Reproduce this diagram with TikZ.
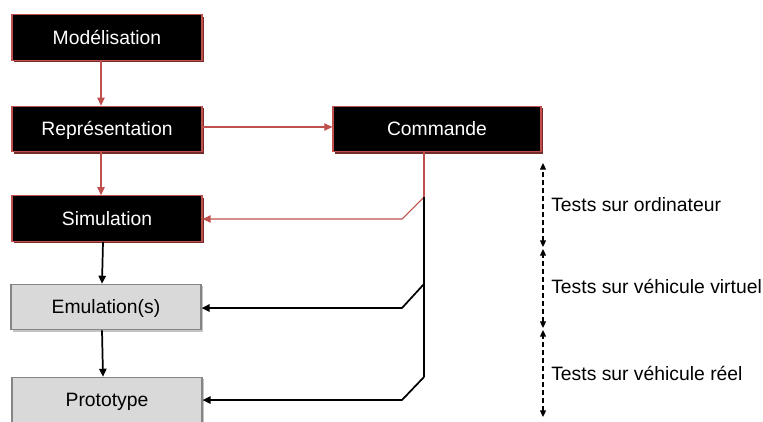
\documentclass[tikz,border=0pt]{standalone}
\usepackage{fontspec}
\setmainfont{Liberation Sans}
\usetikzlibrary{arrows.meta,shadows}
\definecolor{boxred}{HTML}{C0504D}
\definecolor{shadered}{HTML}{772B2A}
\definecolor{boxgray}{HTML}{D9D9D9}
\definecolor{edgegray}{HTML}{858585}
\definecolor{shadegray}{HTML}{C4C4C4}
\begin{document}
\begin{tikzpicture}[x=0.75pt,y=-0.75pt,
  font=\fontsize{14.5pt}{16pt}\selectfont,
  boxbase/.style={line width=0.9pt, minimum width=142.5pt, minimum height=34pt,
    inner sep=0pt, text height=10.4pt, text depth=0pt},
  darkbox/.style={boxbase, draw=boxred, fill=black, text=white,
    drop shadow={shadow xshift=1.6pt, shadow yshift=-1.6pt, fill=shadered, opacity=1}},
  lightbox/.style={boxbase, draw=edgegray, fill=boxgray, text=black,
    drop shadow={shadow xshift=1.6pt, shadow yshift=-1.6pt, fill=shadegray, opacity=1}},
  redline/.style={draw=boxred, line width=0.8pt},
  redflow/.style={redline, -{Triangle[length=6pt,width=5.5pt]}},
  blackline/.style={draw=black, line width=1.3pt},
  blackflow/.style={blackline, -{Triangle[length=6pt,width=5.5pt]}},
  phase/.style={draw=black, line width=0.8pt, dash pattern=on 3.5pt off 2.5pt,
    {Triangle[length=5pt,width=4.5pt]}-{Triangle[length=5pt,width=4.5pt]}},
  phaselabel/.style={anchor=west, inner sep=0pt}]
\useasboundingbox (0,0) rectangle (763,421);

% process boxes
\node[darkbox] (model) at (107,37.5) {Modélisation};
\node[darkbox] (repr)  at (107,129)  {Représentation};
\node[darkbox, minimum width=156pt] (cmd) at (437,129) {Commande};
\node[darkbox] (simu)  at (107,218.5) {Simulation};
\node[lightbox] (emu)  at (106,307)  {Emulation(s)};
\node[lightbox] (proto) at (107,400) {Prototype};

% taps on the control bus
\coordinate (tap1) at (424,197);
\coordinate (tap2) at (424,284);
\coordinate (tap3) at (424,377);
\coordinate (bend1) at (402,219);
\coordinate (bend2) at (402,308);
\coordinate (bend3) at (402,400);

% design chain
\draw[redflow] ([xshift=-4.5pt]model.south) -- ([xshift=-4.5pt]repr.north);
\draw[redflow] ([xshift=-4.5pt]repr.south) -- ([xshift=-4.5pt]simu.north);
\draw[redflow] ([yshift=1.5pt]repr.east) -- ([yshift=1.5pt]cmd.west);
\draw[blackflow] ([xshift=-3pt]simu.south) -- ([xshift=-3pt]emu.north);
\draw[blackflow] ([xshift=-3pt]emu.south) -- ([xshift=-3pt]proto.north);

% control feedback
\draw[redline] ([xshift=-9.75pt]cmd.south) -- (tap1);
\draw[redflow] (tap1) -- (bend1) -- (simu.east |- bend1);
\draw[blackline] (tap1) -- (tap3);
\draw[blackflow] (tap2) -- (bend2) -- (emu.east |- bend2);
\draw[blackflow] (tap3) -- (bend3) -- (proto.east);

% test phases
\coordinate (p0) at (543,163);
\coordinate (p1) at (543,247);
\coordinate (p2) at (543,249);
\coordinate (p3) at (543,328);
\coordinate (p4) at (543,330);
\coordinate (p5) at (543,417);
\draw[phase] (p1) -- (p0);
\draw[phase] (p3) -- (p2);
\draw[phase] (p5) -- (p4);
\node[phaselabel] (l1) at (551,205) {Tests sur ordinateur};
\node[phaselabel] (l2) at (551,286) {Tests sur véhicule virtuel};
\node[phaselabel] (l3) at (551,373) {Tests sur véhicule réel};
\end{tikzpicture}
\end{document}
